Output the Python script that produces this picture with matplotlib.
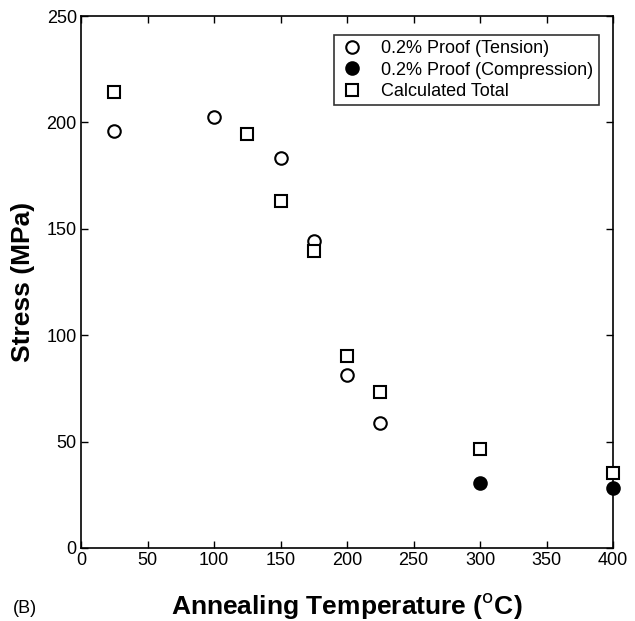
import matplotlib
matplotlib.use("Agg")
import matplotlib.pyplot as plt

plt.rcParams['font.family'] = ['Liberation Sans', 'DejaVu Sans']

# 0.2% proof stress, tension
temp_tension = [25, 100, 150, 175, 200, 225]
stress_tension = [196, 202.5, 183.5, 144.5, 81.5, 58.5]

# 0.2% proof stress, compression
temp_comp = [300, 400]
stress_comp = [30.5, 28]

# calculated total
temp_total = [25, 125, 150, 175, 200, 225, 300, 400]
stress_total = [214.5, 194.5, 163, 139.5, 90, 73.3, 46.3, 35]

fig = plt.figure(figsize=(6.35, 6.21), dpi=100)
ax = fig.add_axes([0.1276, 0.1176, 0.8378, 0.8566])

ax.plot(temp_tension, stress_tension, 'o', mfc='white', mec='black', mew=1.5,
        ms=9, label='0.2% Proof (Tension)', clip_on=False, zorder=3)
ax.plot(temp_comp, stress_comp, 'o', mfc='black', mec='black', mew=1.5,
        ms=9, label='0.2% Proof (Compression)', clip_on=False, zorder=3)
ax.plot(temp_total, stress_total, 's', mfc='white', mec='black', mew=1.5,
        ms=8.5, label='Calculated Total', clip_on=False, zorder=3)

ax.set_xlim(0, 400)
ax.set_ylim(0, 250)
ax.set_xticks(range(0, 401, 50))
ax.set_yticks(range(0, 251, 50))
ax.tick_params(direction='in', length=5, width=1, top=True, right=True,
               labelsize=13, pad=3)
for s in ax.spines.values():
    s.set_linewidth(1.2)

ax.set_xlabel('Annealing Temperature ($^{\\mathrm{o}}$C)', fontsize=19,
              fontweight='bold', labelpad=16)
ax.set_ylabel('Stress (MPa)', fontsize=19, fontweight='bold', labelpad=8)

leg = ax.legend(loc='upper right', fontsize=13, frameon=True, fancybox=False,
                edgecolor='black', borderpad=0.3, handlelength=1.4,
                handletextpad=0.9, labelspacing=0.25,
                bbox_to_anchor=(0.99, 0.982))
leg.get_frame().set_linewidth(1.2)

fig.text(0.02, 0.013, '(B)', fontsize=13)

fig.savefig('out.png', dpi=100)
